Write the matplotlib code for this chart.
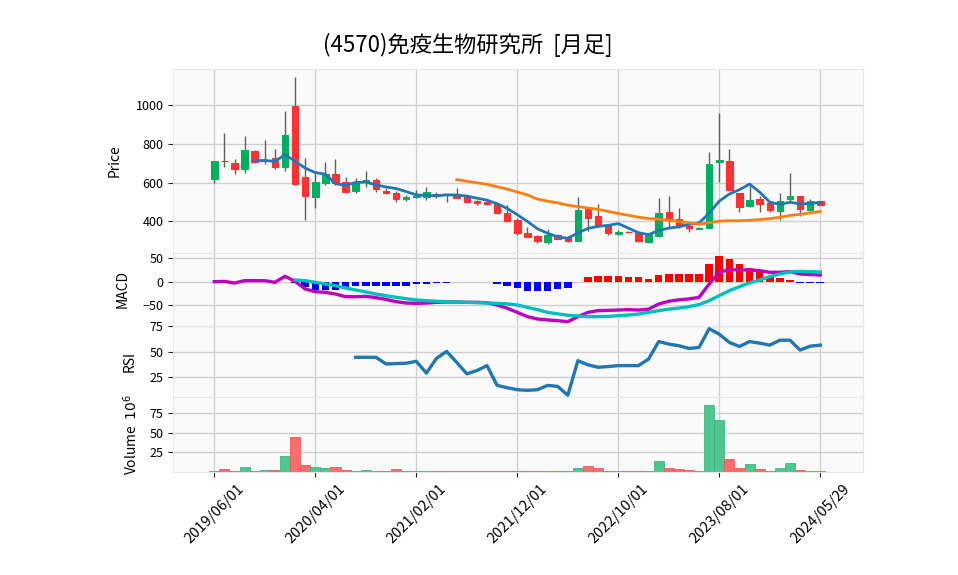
import matplotlib
matplotlib.use("Agg")
import matplotlib.pyplot as plt
import numpy as np

plt.rcParams["font.family"] = ["Noto Sans CJK JP", "DejaVu Sans"]

title = "(4570)免疫生物研究所  [月足]"

# monthly candles 2019/06 .. 2024/05/29 (61 rows)
opens = [618, 714, 700, 673, 764, 714, 726, 683, 997, 628,
         528, 597, 643, 602, 556, 606, 614, 557, 548, 514,
         526, 527, 543, 541, 531, 526, 505, 502, 490, 442,
         407, 338, 325, 295, 330, 318, 300, 462, 428, 376,
         333, 347, 338, 295, 326, 448, 412, 378, 363, 364,
         705, 712, 545, 480, 516, 493, 455, 514, 531, 459, 504]
highs = [712, 855, 721, 843, 769, 819, 776, 969, 1145, 726,
         649, 709, 724, 631, 623, 662, 623, 571, 559, 537,
         560, 576, 552, 543, 571, 528, 511, 511, 502, 485,
         416, 369, 330, 359, 333, 325, 528, 467, 488, 381,
         355, 350, 342, 340, 519, 531, 467, 384, 372, 757,
         959, 772, 545, 600, 531, 502, 545, 648, 531, 514, 507]
lows = [597, 683, 643, 649, 704, 695, 669, 662, 588, 406,
        471, 588, 587, 552, 545, 580, 550, 540, 499, 506,
        522, 511, 519, 499, 519, 497, 485, 485, 442, 404,
        330, 318, 287, 281, 307, 295, 300, 352, 369, 330,
        328, 338, 292, 290, 321, 364, 364, 344, 358, 364,
        605, 562, 447, 473, 450, 450, 407, 493, 428, 450, 486]
closes = [712, 710, 669, 769, 709, 718, 683, 847, 595, 533,
          602, 643, 600, 554, 606, 614, 566, 549, 514, 526,
          529, 552, 538, 539, 523, 502, 497, 488, 445, 404,
          338, 321, 300, 330, 311, 300, 459, 419, 381, 338,
          345, 343, 299, 333, 442, 408, 378, 364, 367, 697,
          717, 562, 476, 511, 490, 459, 504, 531, 466, 504, 486]
volumes = [1.3, 4.3, 1.3, 6.0, 1.3, 2.1, 2.1, 20.0, 44.5, 8.5,
           6.0, 5.0, 6.0, 2.1, 0.9, 2.1, 0.9, 0.9, 3.4, 1.0,
           0.8, 1.2, 0.8, 0.7, 0.9, 0.8, 0.7, 0.7, 1.0, 1.2,
           1.5, 1.0, 0.9, 1.2, 0.8, 1.0, 5.1, 7.7, 5.1, 1.3,
           1.3, 0.9, 0.9, 1.3, 14.0, 5.1, 3.8, 2.6, 1.3, 86.0,
           66.6, 16.6, 5.0, 10.2, 3.8, 1.3, 5.0, 11.5, 2.6, 1.0, 1.0]

ma5 = [np.nan] * 4 + [
    713.8, 715.0, 709.6, 745.2, 710.4, 675.2, 652.0, 644.0, 594.6, 586.4,
    601.0, 603.4, 588.0, 577.8, 569.8, 553.8, 536.8, 534.0, 531.8, 536.8,
    536.2, 530.8, 519.8, 509.8, 491.0, 467.2, 434.4, 399.2, 361.6, 338.6,
    320.0, 312.4, 340.0, 363.8, 374.0, 379.4, 388.4, 365.2, 341.2, 331.6,
    352.4, 365.0, 372.0, 385.0, 391.8, 442.8, 504.6, 541.4, 563.8, 592.6,
    551.2, 499.6, 488.0, 499.0, 490.0, 492.8, 498.2]
ma25 = [np.nan] * 24 + [
    616.0, 607.6, 599.1, 591.8, 578.9, 566.7, 551.5, 537.0, 515.1, 504.5,
    495.6, 483.6, 476.2, 469.0, 462.0, 451.3, 440.6, 431.6, 421.6, 414.4,
    411.0, 406.2, 399.2, 392.3, 385.4, 392.4, 401.0, 403.6, 403.1, 405.7,
    409.2, 414.0, 421.3, 430.6, 436.0, 443.7, 451.2]

macd = [0.0, 0.5, -2.9, 2.1, 2.1, 2.1, -1.4, 11.4, 0.7, -15.7,
        -21.5, -22.9, -26.5, -32.2, -32.2, -31.5, -34.3, -37.9, -42.9, -45.8,
        -46.5, -45.8, -44.3, -43.6, -43.6, -44.3, -44.3, -45.1, -50.1, -57.0,
        -65.8, -75.0, -80.0, -82.0, -83.6, -85.8, -75.0, -65.8, -62.0, -61.5,
        -60.8, -60.0, -60.8, -59.0, -48.0, -42.0, -39.0, -37.0, -33.6, -5.0,
        20.0, 25.7, 25.0, 25.0, 23.6, 20.0, 20.0, 21.5, 16.4, 15.0, 14.3]
signal = [np.nan] * 8 + [
    3.6, 2.0, -1.4, -5.0, -8.6, -13.6, -17.9, -22.0, -26.5, -30.0,
    -33.6, -36.5, -39.3, -40.8, -42.0, -43.0, -43.6, -44.3, -45.0, -45.8,
    -46.5, -47.5, -50.0, -55.0, -60.0, -65.8, -69.0, -72.0, -73.6, -75.0,
    -75.0, -74.4, -73.0, -71.5, -69.4, -65.8, -62.0, -59.0, -56.5, -53.6,
    -49.0, -40.8, -30.0, -19.3, -10.7, -2.9, 3.6, 10.7, 16.4, 20.7,
    22.0, 21.5, 20.7]
hist = [np.nan] * 8 + [
    -3, -12, -17, -17, -17, -16, -10, -9, -9, -9,
    -9, -9, -5, -4, -3, -2, -0.5, -0.5, 0.3, 0.3,
    -4, -9, -14, -20, -21, -19, -16, -14, -1.5, 9,
    13, 13, 13, 11, 9, 6, 15, 17, 17, 17,
    16, 37, 54, 48, 38, 30, 22, 13, 8, 3,
    -2, -2, -3]
rsi = [np.nan] * 14 + [
    44.6, 44.6, 44.6, 38.1, 38.5, 38.8, 40.7, 29.2, 43.6, 50.3,
    39.7, 28.5, 31.7, 36.5, 17.3, 15.0, 13.1, 12.5, 13.1, 17.3,
    16.3, 7.7, 41.3, 37.2, 34.9, 35.6, 36.5, 36.5, 36.5, 42.9,
    59.9, 57.4, 55.8, 53.2, 54.2, 72.4, 67.0, 59.0, 55.1, 59.9,
    58.3, 56.4, 61.2, 61.2, 51.6, 55.4, 56.4]

tick_pos = [0, 10, 20, 30, 40, 50, 60]
tick_labels = ["2019/06/01", "2020/04/01", "2021/02/01", "2021/12/01",
               "2022/10/01", "2023/08/01", "2024/05/29"]

x = np.arange(len(closes))
o = np.array(opens, float)
c = np.array(closes, float)
up = c >= o
candle_col = np.where(up, "#00b060", "#fe3032")
vol_col = np.where(up, "#4dc790", "#fd6b6c")
vol_edge = np.where(up, "#3db57f", "#f05a5b")

W, H = 958, 575
fig = plt.figure(figsize=(W / 100, H / 100), dpi=100)
left, right = 173.3, 862.7


def panel(top, bottom, share=None):
    ax = fig.add_axes([left / W, 1 - bottom / H, (right - left) / W, (bottom - top) / H],
                      sharex=share)
    ax.set_facecolor("#fafafa")
    ax.grid(True, color="#d0d0d0", linewidth=1.0)
    ax.set_axisbelow(True)
    for s in ax.spines.values():
        s.set_color("#e8e8e8")
    ax.tick_params(axis="y", labelsize=9, length=3.5, color="#222222")
    ax.tick_params(axis="x", length=0, labelbottom=False)
    return ax


ax1 = panel(69.3, 252.7)
ax2 = panel(252.7, 326, ax1)
ax3 = panel(326, 397, ax1)
ax4 = panel(397, 472, ax1)

# candles
ax1.vlines(x, lows, highs, color="#606060", linewidth=1.0, zorder=2)
ax1.bar(x, c - o, bottom=o, width=0.65, color=candle_col,
        edgecolor=candle_col, linewidth=0.8, zorder=3)
ax1.plot(x, ma5, color="#1f77b4", linewidth=2.0, zorder=4)
ax1.plot(x, ma25, color="#ff7f0e", linewidth=2.0, zorder=4)
ax1.set_ylim(238, 1186)
ax1.set_yticks([400, 600, 800, 1000])
ax1.set_ylabel("Price", fontsize=10, labelpad=10)

# MACD
h = np.array(hist, float)
ax2.bar(x, h, width=0.75, color=np.where(h >= 0, "#ff0000", "#0000ff"), zorder=2)
ax2.plot(x, macd, color="#bf00bf", linewidth=2.4, zorder=3)
ax2.plot(x, signal, color="#00bfbf", linewidth=2.4, zorder=3)
ax2.set_ylim(-95, 62)
ax2.set_yticks([-50, 0, 50])
ax2.set_ylabel("MACD", fontsize=10, labelpad=9)

# RSI
ax3.plot(x, rsi, color="#1f77b4", linewidth=2.4)
ax3.set_ylim(6, 75)
ax3.set_yticks([25, 50, 75])
ax3.set_ylabel("RSI", fontsize=10, labelpad=9)

# volume
ax4.bar(x, volumes, width=1.0, color=vol_col, edgecolor=vol_edge, linewidth=0.6)
ax4.set_ylim(0, 96)
ax4.set_yticks([25, 50, 75])
ax4.set_ylabel("Volume  $10^{6}$", fontsize=10, labelpad=7)

ax4.set_xticks(tick_pos)
ax4.set_xticklabels(tick_labels, rotation=45)
ax4.tick_params(axis="x", length=3.5, color="#222222", labelbottom=True, labelsize=10.5)
ax1.set_xlim(-4.06, 64.2)

fig.text(468 / W, 1 - 45 / H, title, ha="center", va="center", fontsize=16)

fig.savefig("out.png", dpi=100)
